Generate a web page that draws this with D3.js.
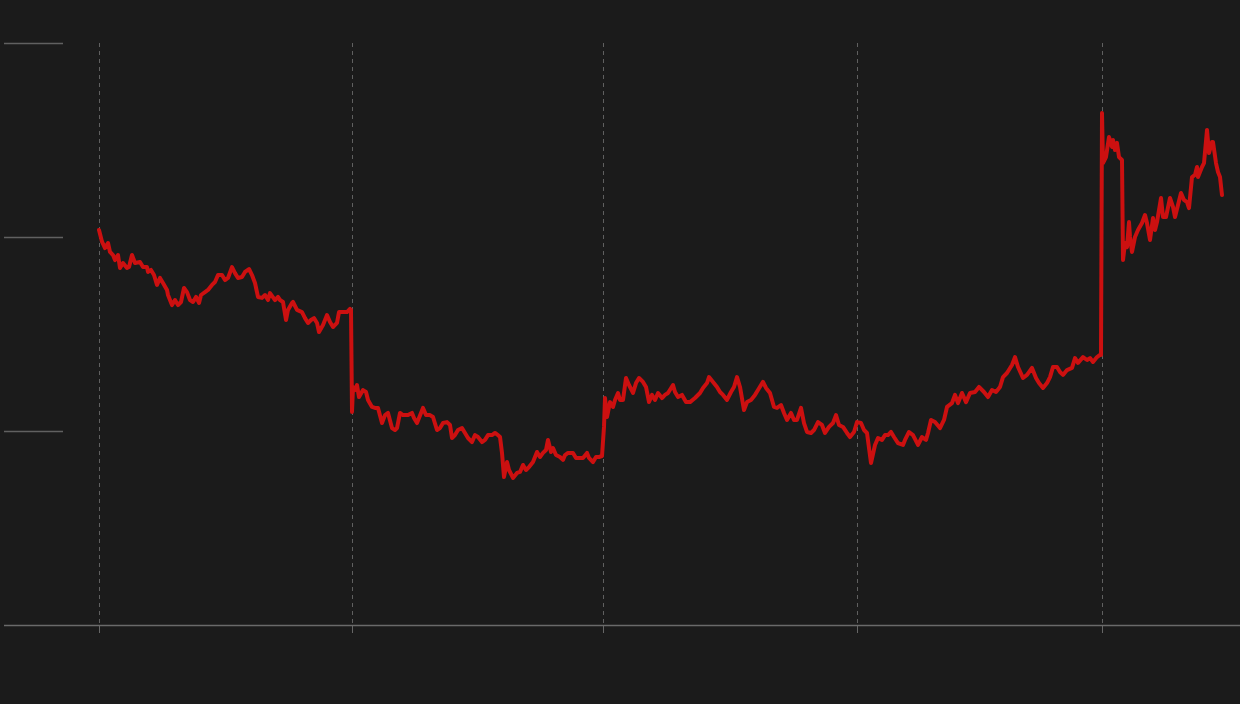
<!DOCTYPE html>
<html>
<head>
<meta charset="utf-8">
<script src="https://cdn.jsdelivr.net/npm/d3@7"></script>
<style>
  html, body { margin: 0; padding: 0; background: #1b1b1b; }
  svg { display: block; }
</style>
</head>
<body>
<svg id="chart" width="1240" height="704"></svg>
<script>
// ---- data ----
const dayIndex = [0,3,6,9,11,14,16,19,21,24,28,30,33,36,41,44,48,49,52,55,58,61,64,68,69,73,76,79,82,85,88,91,94,97,100,102,106,109,113,116,119,123,126,129,133,136,139,143,146,150,153,156,159,163,166,169,171,176,179,181,184,187,189,193,194,198,203,206,209,212,215,218,220,224,228,231,234,238,240,244,248,251,252,
253,254,256,258,260,264,267,269,273,276,279,283,286,289,293,296,298,301,304,309,313,315,318,324,327,331,334,338,341,344,348,351,353,356,359,363,366,369,373,376,379,383,386,389,393,396,399,401,403,405,408,410,414,418,421,424,427,430,434,438,441,444,447,449,452,454,457,461,464,466,469,474,477,481,484,488,490,494,497,500,503,
505,506,508,511,514,516,519,521,524,527,530,534,537,540,544,547,550,553,556,559,563,566,569,574,576,579,583,587,591,596,601,604,608,610,614,618,621,624,628,632,635,638,641,645,648,652,656,659,664,667,671,675,678,682,685,688,692,695,698,702,705,708,712,715,719,723,726,730,734,737,740,744,748,751,755,758,762,765,768,772,776,779,783,786,789,792,795,799,804,806,810,814,819,823,827,829,832,836,841,845,848,853,856,859,863,867,871,876,880,885,889,893,897,901,904,908,913,916,919,924,928,933,937,940,944,948,951,954,958,961,964,968,973,976,979,984,988,991,994,998,1001,1002,
1003,1004,1007,1010,1013,1014,1016,1018,1020,1023,1024,1026,1028,1030,1031,1033,1036,1039,1043,1046,1048,1051,1054,1056,1058,1062,1064,1067,1071,1074,1076,1079,1082,1085,1088,1090,1093,1096,1098,1099,1103,1105,1108,1110,1113,1114,1117,1119,1121,1123];
const price = [203.6,197.6,194.3,196.9,192.3,190.7,188.1,190.7,184.0,186.6,184.0,184.5,190.7,186.6,187.1,184.5,184.5,182.0,183.0,180.4,175.3,178.9,176.3,172.7,170.1,164.9,167.5,164.9,166.5,173.7,171.6,167.5,166.5,169.1,166.0,170.1,171.6,172.7,175.3,176.8,180.4,180.4,177.8,178.9,184.5,181.4,178.9,179.4,182.0,183.5,180.4,176.3,169.1,168.6,170.1,167.5,171.1,167.5,169.1,167.5,166.5,157.2,162.4,166.0,166.5,162.4,161.3,158.2,155.7,157.2,158.2,155.7,151.0,154.6,159.8,156.2,153.6,155.7,161.3,161.3,161.3,162.9,162.4,
109.8,122.7,121.1,123.7,117.5,121.1,120.1,116.0,112.4,111.9,111.9,104.1,108.2,109.3,101.5,100.5,101.5,109.3,108.2,108.2,109.3,106.7,104.1,111.9,108.2,108.2,107.2,100.5,101.5,104.1,104.6,103.1,96.4,97.9,100.5,101.5,99.0,96.4,94.3,97.9,96.9,94.3,95.4,97.9,97.9,99.0,97.9,96.9,88.7,76.3,84.0,79.9,75.8,78.4,78.9,82.5,79.9,81.4,84.0,89.2,86.6,88.7,90.2,95.4,89.2,91.2,87.6,86.6,85.1,87.6,88.7,88.7,86.1,86.1,86.1,88.7,86.1,84.0,86.6,86.6,87.1,
102.1,117.0,107.2,114.9,112.4,116.0,119.6,116.0,116.0,127.3,123.7,119.6,124.7,127.3,125.3,122.7,114.9,118.6,116.0,119.6,117.0,118.6,119.6,123.7,120.1,117.5,118.6,114.9,114.9,117.0,119.6,122.2,124.7,127.8,125.3,122.7,120.1,118.6,116.0,120.1,122.7,127.8,122.7,110.8,114.9,116.0,118.6,121.1,125.3,122.2,119.6,112.4,111.9,113.4,109.3,105.7,109.3,105.7,105.7,111.9,104.1,99.5,99.0,100.5,104.6,103.1,99.0,102.1,104.1,108.2,103.1,102.1,99.0,96.9,99.5,104.6,104.1,100.5,99.0,83.5,92.8,96.4,95.4,97.9,97.9,99.5,96.9,93.8,92.8,95.4,99.5,97.9,92.8,96.9,95.4,99.0,105.7,104.6,101.5,105.7,112.4,114.4,118.6,114.4,119.6,114.9,119.6,120.1,122.7,120.1,117.5,121.1,120.1,122.7,127.8,129.9,134.0,138.1,133.0,127.3,128.9,132.5,127.3,124.7,122.2,124.7,127.8,133.0,133.0,130.4,128.9,131.4,132.5,137.6,135.1,138.1,136.6,137.6,135.6,138.1,139.2,139.2,
263.9,238.1,241.2,251.5,246.4,250.0,244.8,248.5,241.2,239.7,188.1,196.9,194.8,207.7,200.0,192.3,200.0,203.6,207.2,211.3,207.2,198.5,209.8,203.6,207.7,220.1,210.3,210.3,220.1,215.5,210.3,216.5,222.7,219.1,218.0,214.9,230.9,232.0,236.1,230.9,236.1,238.1,255.2,243.3,249.0,249.0,238.1,233.5,230.9,221.6];
const xTickValues = [0, 253, 504, 758, 1003];
const yTickValues = [100, 200, 300];
const yBase = 0;

// ---- layout ----
const svg = d3.select("#chart");
const W = 1240, H = 704;
const plotLeft = 4, plotRight = 1240, plotTop = 43, plotBottom = 625;

const x = d3.scaleLinear().domain([-95, 1141]).range([plotLeft, plotRight]);
const y = d3.scaleLinear().domain([0, 300]).range([plotBottom, plotTop]);

svg.append("rect").attr("width", W).attr("height", H).attr("fill", "#1b1b1b");

// vertical dashed gridlines
svg.append("g").selectAll("line").data(xTickValues).join("line")
  .attr("x1", d => Math.round(x(d)) + 0.5).attr("x2", d => Math.round(x(d)) + 0.5)
  .attr("y1", plotTop).attr("y2", plotBottom)
  .attr("stroke", "#606060").attr("stroke-width", 1)
  .attr("stroke-dasharray", "4,4");

// small ticks below baseline
svg.append("g").selectAll("line").data(xTickValues).join("line")
  .attr("x1", d => Math.round(x(d)) + 0.5).attr("x2", d => Math.round(x(d)) + 0.5)
  .attr("y1", plotBottom).attr("y2", plotBottom + 8)
  .attr("stroke", "#666").attr("stroke-width", 1);

// short horizontal ticks at left
svg.append("g").selectAll("line").data(yTickValues).join("line")
  .attr("x1", plotLeft).attr("x2", 63)
  .attr("y1", d => Math.round(y(d)) + 0.5).attr("y2", d => Math.round(y(d)) + 0.5)
  .attr("stroke", "#606060").attr("stroke-width", 1.3);

// baseline
svg.append("line")
  .attr("x1", plotLeft).attr("x2", plotRight)
  .attr("y1", Math.round(y(yBase)) + 0.5).attr("y2", Math.round(y(yBase)) + 0.5)
  .attr("stroke", "#6a6a6a").attr("stroke-width", 1.3);

// price line
const pts = d3.zip(dayIndex, price);
const line = d3.line().x(d => x(d[0])).y(d => y(d[1]));
svg.append("path").datum(pts)
  .attr("d", line)
  .attr("fill", "none")
  .attr("stroke", "#cc1010")
  .attr("stroke-width", 4)
  .attr("stroke-linejoin", "round")
  .attr("stroke-linecap", "round");
</script>
</body>
</html>
